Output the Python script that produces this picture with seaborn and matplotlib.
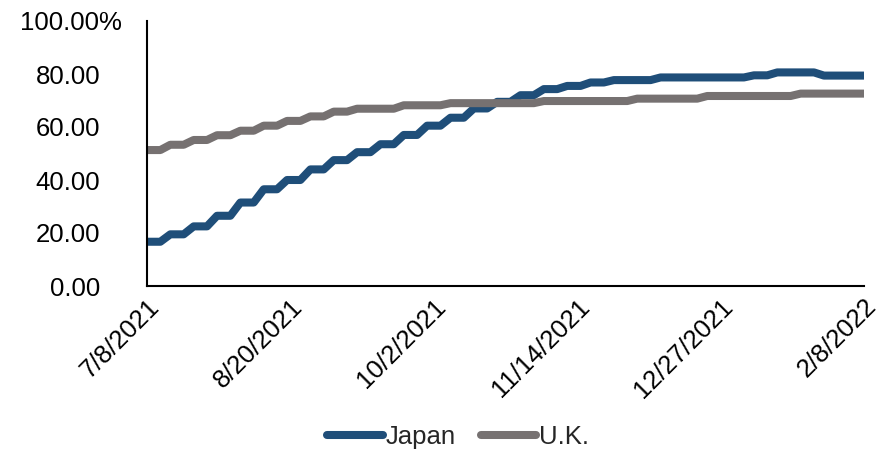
import matplotlib
matplotlib.use("Agg")
import matplotlib.pyplot as plt
import matplotlib.transforms as mtransforms
import pandas as pd
import seaborn as sns

# Weekly readings (share of population, %), starting 7/8/2021. Each reading is
# in force from its reporting day through the fourth day after it; the line
# then climbs to the next week's reading. The last one runs to 2/8/2022.
start = pd.Timestamp("2021-07-08")
end = pd.Timestamp("2022-02-08")
japan = [16.7, 19.5, 22.5, 26.5, 31.5, 36.5, 40.0, 44.0, 47.5, 50.5, 53.5,
         57.0, 60.5, 63.5, 67.0, 69.5, 72.0, 74.3, 75.5, 76.8, 77.7, 77.7,
         78.7, 78.7, 78.7, 78.7, 79.5, 80.6, 80.6, 79.4, 79.4]
uk = [51.3, 53.3, 55.1, 56.9, 58.6, 60.5, 62.3, 64.0, 65.8, 66.9, 66.9,
      68.2, 68.2, 69.0, 69.0, 69.0, 69.0, 69.8, 69.8, 69.8, 69.8, 70.7,
      70.7, 70.7, 71.7, 71.7, 71.7, 71.7, 72.6, 72.6, 72.6]

series_names = ["Japan", "U.K."]
colors = ["#1F4E79", "#767171"]
x_tick_labels = ["7/8/2021", "8/20/2021", "10/2/2021", "11/14/2021", "12/27/2021", "2/8/2022"]
y_ticks = [0, 20, 40, 60, 80, 100]
y_tick_labels = ["0.00", "20.00", "40.00", "60.00", "80.00", "100.00%"]

hold_days = 4


def held(weekly):
    """Points marking where each weekly reading begins and stops holding."""
    dates, values = [], []
    for k, v in enumerate(weekly):
        first = start + pd.Timedelta(days=7 * k)
        last = min(first + pd.Timedelta(days=hold_days), end)
        if k == len(weekly) - 1:
            last = end
        dates += [first, last]
        values += [v, v]
    return dates, values


rows = []
for name, weekly in zip(series_names, [japan, uk]):
    d, v = held(weekly)
    rows.append(pd.DataFrame({"date": d, "value": v, "country": name}))
df = pd.concat(rows, ignore_index=True)

sns.set_theme(style="white")
plt.rcParams["font.family"] = ["Liberation Sans", "DejaVu Sans"]
fs = 18.5

fig = plt.figure(figsize=(8.81, 4.51), dpi=100)
ax = fig.add_axes([147 / 881, 1 - 286 / 451, (864 - 147) / 881, (286 - 21) / 451])

sns.lineplot(data=df, x="date", y="value", hue="country", hue_order=series_names,
             palette=colors, linewidth=5.8, sort=False,
             solid_capstyle="round", solid_joinstyle="round",
             legend=False, ax=ax)

ax.set_xlim(start, end)
ax.set_ylim(0, 100)
ax.set_xlabel("")
ax.set_ylabel("")

ax.set_yticks(y_ticks)
ax.set_yticklabels(y_tick_labels)
ax.set_xticks(pd.to_datetime(x_tick_labels, format="%m/%d/%Y"))
ax.set_xticklabels(x_tick_labels, rotation=45, ha="right", va="top",
                   rotation_mode="anchor")
ax.tick_params(axis="y", length=0, pad=33.8, labelsize=fs, labelcolor="black")
ax.tick_params(axis="x", length=0, pad=6, labelsize=fs, labelcolor="black")

for side in ("top", "right"):
    ax.spines[side].set_visible(False)
for side in ("left", "bottom"):
    ax.spines[side].set_color("black")
    ax.spines[side].set_linewidth(1.5)
ax.grid(False)

# the percent sign hangs to the right of the other labels
top_label = ax.yaxis.get_major_ticks()[-1].label1
top_label.set_transform(top_label.get_transform()
                        + mtransforms.ScaledTranslation(0.22, 0, fig.dpi_scale_trans))

fig.legend(handles=ax.get_lines()[:2], labels=series_names, loc="center",
           bbox_to_anchor=(0.52, 0.031), ncol=2, frameon=False, fontsize=fs,
           handlelength=2.15, handletextpad=0.1, columnspacing=1.0,
           borderaxespad=0, borderpad=0)

fig.savefig("out.png", dpi=100, facecolor="white")
